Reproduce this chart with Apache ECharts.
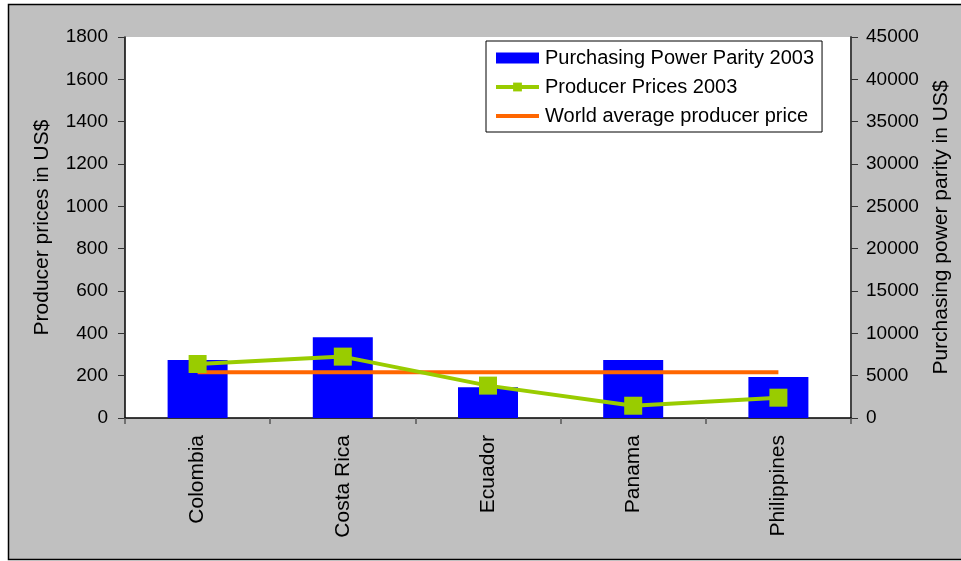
<!DOCTYPE html>
<html>
<head>
<meta charset="utf-8">
<script src="https://cdn.jsdelivr.net/npm/echarts@6/dist/echarts.min.js"></script>
<style>
  html, body { margin: 0; padding: 0; background: #ffffff; }
  #chart { width: 961px; height: 561px; }
</style>
</head>
<body>
<div id="chart"></div>
<script>
// Countries on the category axis
const countries = ['Colombia', 'Costa Rica', 'Ecuador', 'Panama', 'Philippines'];
// Purchasing power parity 2003 (US$), right axis
const pppValues = [6850, 9530, 3630, 6850, 4840];
// Producer prices 2003 (US$), left axis
const producerPrices = [255, 290, 153, 58, 96];
// World average producer price (US$), left axis
const worldAverage = [216, 216, 216, 216, 216];

const FONT = '"Liberation Sans", Arial, sans-serif';
const plain = (v) => String(v);

const chart = echarts.init(document.getElementById('chart'), null, { renderer: 'canvas' });

chart.setOption({
  backgroundColor: '#ffffff',
  animation: false,
  textStyle: { fontFamily: FONT, color: '#000000' },
  graphic: [
    {
      type: 'rect',
      z: -10,
      silent: true,
      shape: { x: 8.5, y: 4.5, width: 960, height: 555 },
      style: { fill: '#c0c0c0', stroke: '#000000', lineWidth: 1.5 }
    }
  ],
  grid: {
    left: 125, right: 110, top: 37, bottom: 143,
    outerBoundsMode: 'none',
    containLabel: false,
    show: true, backgroundColor: '#ffffff', borderWidth: 0
  },
  legend: {
    orient: 'vertical',
    left: 486, top: 41,
    padding: [7, 8, 6, 8],
    itemGap: 9,
    itemWidth: 43,
    itemHeight: 11,
    backgroundColor: '#ffffff',
    borderColor: '#000000',
    borderWidth: 1,
    borderRadius: 0,
    textStyle: { fontFamily: FONT, fontSize: 20, color: '#000000', padding: [0, 0, 0, 1] },
    data: [
      { name: 'Purchasing Power Parity 2003', icon: 'rect' },
      { name: 'Producer Prices 2003', lineStyle: { width: 4 } },
      { name: 'World average producer price', lineStyle: { width: 4 }, itemStyle: { opacity: 0 } }
    ]
  },
  xAxis: {
    type: 'category',
    data: countries,
    boundaryGap: true,
    axisLine: { lineStyle: { color: '#000000', width: 1.5 } },
    axisTick: { show: true, alignWithLabel: false, length: 6, lineStyle: { color: '#555555', width: 1.5 } },
    axisLabel: {
      rotate: 90, margin: 17, fontSize: 21, fontFamily: FONT, color: '#000000', interval: 0
    }
  },
  yAxis: [
    {
      type: 'value',
      min: 0, max: 1800, interval: 200,
      name: 'Producer prices in US$',
      nameLocation: 'middle',
      nameRotate: 90,
      nameGap: 72,
      nameTextStyle: { fontSize: 21, fontFamily: FONT, color: '#000000' },
      axisLine: { show: true, lineStyle: { color: '#000000', width: 1.5 } },
      axisTick: { show: true, inside: false, length: 7, lineStyle: { color: '#333333' } },
      axisLabel: { fontSize: 19, margin: 17, color: '#000000', fontFamily: FONT, formatter: plain },
      splitLine: { show: false }
    },
    {
      type: 'value',
      position: 'right',
      min: 0, max: 45000, interval: 5000,
      name: 'Purchasing power parity in US$',
      nameLocation: 'middle',
      nameRotate: 90,
      nameGap: 80,
      nameTextStyle: { fontSize: 21, fontFamily: FONT, color: '#000000' },
      axisLine: { show: true, lineStyle: { color: '#444444', width: 2 } },
      axisTick: { show: true, inside: false, length: 7, lineStyle: { color: '#333333' } },
      axisLabel: { fontSize: 19, margin: 15, color: '#000000', fontFamily: FONT, formatter: plain },
      splitLine: { show: false }
    }
  ],
  series: [
    {
      name: 'Purchasing Power Parity 2003',
      type: 'bar',
      yAxisIndex: 1,
      data: pppValues,
      barWidth: 60,
      itemStyle: { color: '#0000ff' },
      z: 2
    },
    {
      name: 'World average producer price',
      type: 'line',
      yAxisIndex: 0,
      data: worldAverage,
      showSymbol: false,
      symbol: 'none',
      lineStyle: { color: '#ff6600', width: 4 },
      itemStyle: { color: '#ff6600' },
      z: 3
    },
    {
      name: 'Producer Prices 2003',
      type: 'line',
      yAxisIndex: 0,
      data: producerPrices,
      symbol: 'rect',
      symbolSize: 18,
      lineStyle: { color: '#99cc00', width: 4 },
      itemStyle: { color: '#99cc00' },
      z: 4
    }
  ]
});
</script>
</body>
</html>
